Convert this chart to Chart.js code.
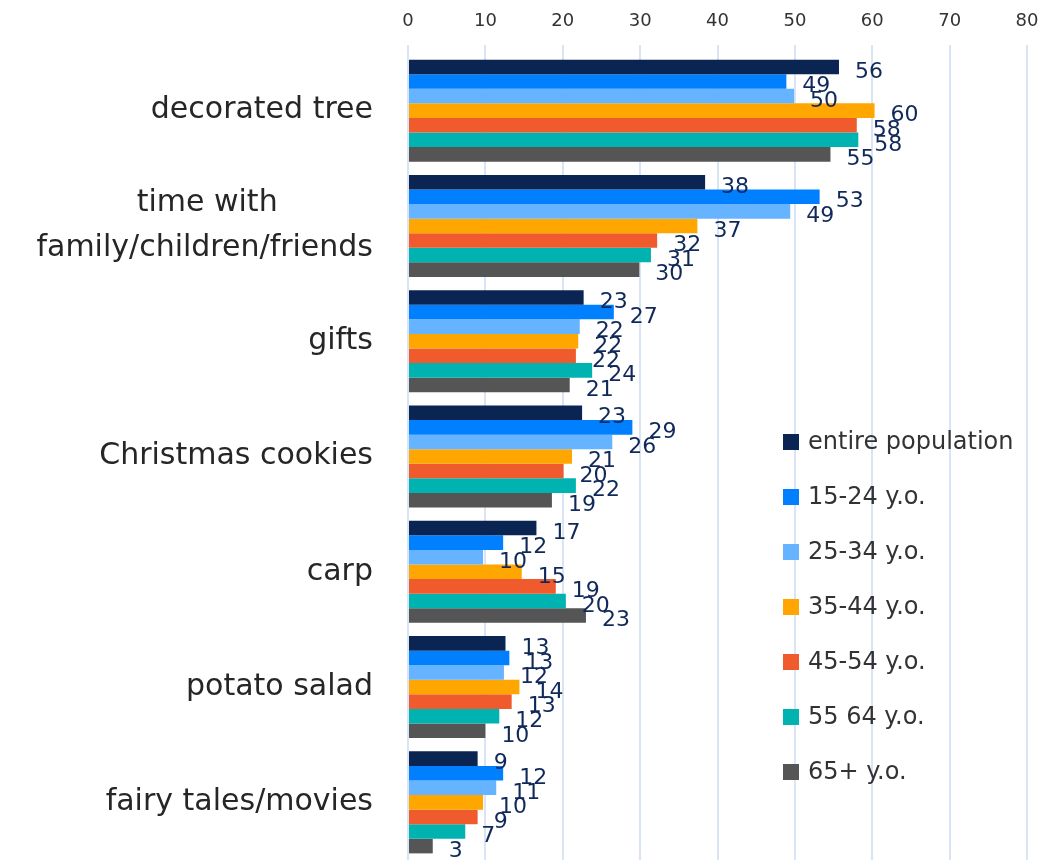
<!DOCTYPE html>
<html>
<head>
<meta charset="utf-8">
<script src="https://cdn.jsdelivr.net/npm/chart.js@4"></script>
<style>
  html, body { margin: 0; padding: 0; background: #fff; }
  #wrap { width: 1043px; height: 860px; }
</style>
</head>
<body>
<div id="wrap"><canvas id="mychart"></canvas></div>
<script>
// categories and series
const categories = [
  'decorated tree',
  ['time with          ', 'family/children/friends'],
  'gifts',
  'Christmas cookies',
  'carp',
  'potato salad',
  'fairy tales/movies'
];
const seriesNames = ['entire population', '15-24 y.o.', '25-34 y.o.', '35-44 y.o.', '45-54 y.o.', '55 64 y.o.', '65+ y.o.'];
const seriesColors = ['#0b2553', '#0080ff', '#66b3ff', '#ffa600', '#ef5b2d', '#00b3b0', '#555555'];

const entirePop = [55.7, 38.4, 22.7, 22.5, 16.6, 12.6, 9.0];
const age15_24  = [48.9, 53.2, 26.6, 29.0, 12.3, 13.1, 12.3];
const age25_34  = [49.9, 49.4, 22.2, 26.4, 9.7, 12.4, 11.4];
const age35_44  = [60.3, 37.4, 22.0, 21.2, 14.7, 14.4, 9.7];
const age45_54  = [58.0, 32.2, 21.7, 20.1, 19.1, 13.4, 9.0];
const age55_64  = [58.2, 31.4, 23.8, 21.7, 20.4, 11.8, 7.4];
const age65plus = [54.6, 29.9, 20.9, 18.6, 23.0, 10.0, 3.2];
const seriesValues = [entirePop, age15_24, age25_34, age35_44, age45_54, age55_64, age65plus];

const xTicks = [0, 10, 20, 30, 40, 50, 60, 70, 80];

const FONT = "'DejaVu Sans', 'Noto Sans', sans-serif";

// value labels at bar ends
const barLabels = {
  id: 'barLabels',
  afterDatasetsDraw(chart) {
    const c = chart.ctx;
    c.save();
    c.font = '22px ' + FONT;
    c.fillStyle = '#10295a';
    c.textAlign = 'left';
    c.textBaseline = 'middle';
    chart.data.datasets.forEach((ds, i) => {
      chart.getDatasetMeta(i).data.forEach((bar, j) => {
        c.fillText(Math.round(ds.data[j]), bar.x + 16, bar.y + 5);
      });
    });
    c.restore();
  }
};

// legend inside the plot area
const innerLegend = {
  id: 'innerLegend',
  afterDraw(chart) {
    const c = chart.ctx;
    c.save();
    c.font = '24px ' + FONT;
    c.textBaseline = 'middle';
    c.textAlign = 'left';
    chart.data.datasets.forEach((ds, i) => {
      const y = 442 + i * 55;
      c.fillStyle = ds.backgroundColor;
      c.fillRect(783, y - 8, 16, 16);
      c.fillStyle = '#333333';
      c.fillText(ds.label, 808, y + 1);
    });
    c.restore();
  }
};

const ctx = document.getElementById('mychart');
new Chart(ctx, {
  type: 'bar',
  data: {
    labels: categories,
    datasets: seriesNames.map((name, i) => ({
      label: name,
      data: seriesValues[i],
      backgroundColor: seriesColors[i],
      borderWidth: 0,
      barPercentage: 1,
      categoryPercentage: 0.885
    }))
  },
  options: {
    indexAxis: 'y',
    responsive: true,
    maintainAspectRatio: false,
    animation: false,
    layout: { padding: { left: 0, right: 16, top: 0, bottom: 0 } },
    plugins: {
      legend: { display: false },
      tooltip: { enabled: false }
    },
    scales: {
      x: {
        position: 'top',
        min: 0,
        max: 80,
        afterBuildTicks: s => { s.ticks = xTicks.map(v => ({ value: v })); },
        afterFit: s => { s.height = 53; s.paddingLeft = 0; s.paddingRight = 0; },
        grid: { color: '#d9e4f5', lineWidth: 2, drawTicks: true, tickLength: 8 },
        border: { display: false },
        ticks: { color: '#333333', font: { family: FONT, size: 18 }, padding: 13 }
      },
      y: {
        afterFit: s => { s.width = 408; s.paddingTop = 0; s.paddingBottom = 0; },
        grid: { display: false, drawTicks: false },
        border: { display: false },
        ticks: { color: '#262626', font: { family: FONT, size: 30, lineHeight: 1.5 }, padding: 35 }
      }
    }
  },
  plugins: [barLabels, innerLegend]
});
</script>
</body>
</html>
